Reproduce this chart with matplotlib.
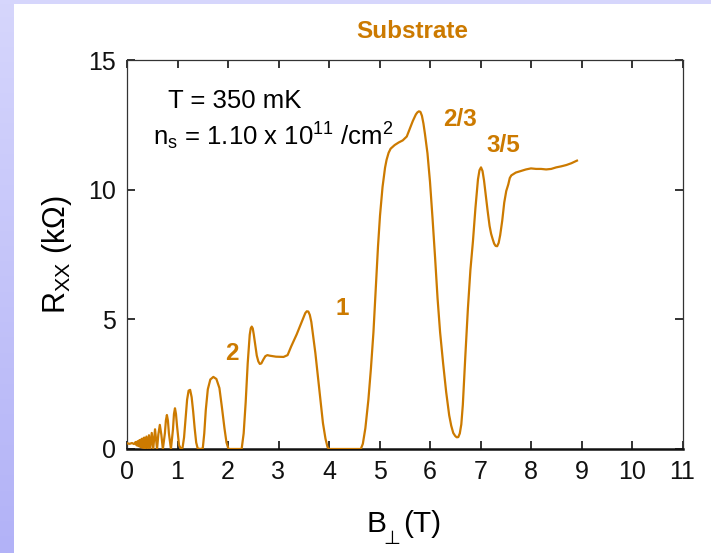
import numpy as np
import matplotlib
matplotlib.use("Agg")
import matplotlib.pyplot as plt
from matplotlib.colors import LinearSegmentedColormap

plt.rcParams['font.family'] = ['Liberation Sans', 'DejaVu Sans']
plt.rcParams['mathtext.fontset'] = 'custom'
plt.rcParams['mathtext.rm'] = 'Liberation Sans'
plt.rcParams['mathtext.it'] = 'Liberation Sans'

# ---- data ----
B_field = [0.00, 0.05, 0.10, 0.14, 0.17, 0.19, 0.21, 0.225, 0.24, 0.255, 0.27, 0.285,
           0.30, 0.32, 0.34, 0.36, 0.385, 0.41, 0.435, 0.46, 0.49, 0.52, 0.555, 0.595,
           0.62, 0.65, 0.68, 0.71, 0.75, 0.77, 0.79, 0.81, 0.83, 0.87, 0.91, 0.93, 0.95,
           0.97, 0.99, 1.03, 1.07,
           1.10, 1.13, 1.16, 1.19, 1.22, 1.25, 1.28, 1.31, 1.34, 1.37, 1.40, 1.45, 1.50,
           1.53, 1.56, 1.60, 1.65, 1.71, 1.77, 1.83, 1.88, 1.93, 1.97, 2.01, 2.27,
           2.31, 2.35, 2.39, 2.43, 2.45, 2.47, 2.49, 2.51, 2.54, 2.57, 2.60, 2.63, 2.66,
           2.70, 2.74, 2.78, 2.82, 2.95,
           3.10, 3.18, 3.25, 3.36, 3.45, 3.50, 3.53, 3.56, 3.59, 3.62, 3.65, 3.68, 3.73,
           3.78, 3.83, 3.88, 3.93, 3.97, 4.00, 4.63, 4.67, 4.72, 4.78, 4.83, 4.88, 4.93,
           4.97, 5.01, 5.06, 5.11, 5.14, 5.18, 5.22, 5.30, 5.38, 5.46, 5.54, 5.60, 5.66,
           5.72, 5.75, 5.78, 5.81, 5.84, 5.87, 5.90, 5.95, 6.00, 6.05, 6.10, 6.15, 6.20,
           6.26, 6.32, 6.38, 6.42, 6.46, 6.50, 6.53, 6.56, 6.59, 6.62, 6.65, 6.70, 6.75,
           6.80, 6.85, 6.90, 6.95, 6.98, 7.01, 7.04, 7.07, 7.10, 7.14, 7.18, 7.21, 7.24,
           7.27, 7.30, 7.33, 7.36, 7.39, 7.43, 7.47, 7.51, 7.55, 7.58, 7.61, 7.65, 7.70,
           7.80, 7.90, 8.00, 8.10, 8.20, 8.30, 8.40, 8.50, 8.60, 8.70, 8.80, 8.91]
R_xx = [0.22, 0.20, 0.23, 0.19, 0.27, 0.14, 0.30, 0.11, 0.33, 0.09, 0.36, 0.06,
        0.40, 0.04, 0.44, 0.02, 0.48, 0.00, 0.53, 0.00, 0.62, 0.02, 0.76, 0.00,
        0.55, 0.93, 0.55, 0.00, 0.60, 1.10, 1.31, 1.10, 0.60, 0.00, 0.75, 1.35, 1.57,
        1.35, 0.90, 0.15, 0.00,
        0.05, 0.45, 1.20, 1.90, 2.25, 2.28, 2.00, 1.45, 0.80, 0.25, 0.02, 0.00, 0.02,
        0.60, 1.50, 2.30, 2.68, 2.78, 2.70, 2.35, 1.60, 0.80, 0.25, 0.00, 0.00,
        0.60, 1.80, 3.30, 4.40, 4.65, 4.72, 4.65, 4.42, 4.00, 3.60, 3.38, 3.28, 3.30,
        3.45, 3.58, 3.62, 3.60, 3.56,
        3.55, 3.62, 3.95, 4.42, 4.85, 5.10, 5.24, 5.31, 5.30, 5.17, 4.90, 4.45, 3.70,
        2.80, 1.90, 1.00, 0.40, 0.08, 0.00, 0.00, 0.20, 0.80, 1.90, 3.10, 4.50, 6.30,
        7.80, 9.00, 10.10, 10.85, 11.15, 11.42, 11.58, 11.72, 11.82, 11.90, 12.05, 12.35, 12.65,
        12.90, 12.98, 13.02, 13.00, 12.85, 12.55, 12.15, 11.40, 10.30, 8.90, 7.40, 5.80, 4.50,
        3.30, 2.20, 1.30, 0.90, 0.62, 0.50, 0.45, 0.46, 0.60, 0.95, 1.70, 3.60, 5.40,
        6.90, 8.00, 9.30, 10.40, 10.75, 10.86, 10.72, 10.35, 9.85, 9.20, 8.60, 8.30, 8.10,
        7.92, 7.83, 7.82, 7.95, 8.25, 8.80, 9.50, 9.95, 10.20, 10.45, 10.55, 10.60, 10.66,
        10.72, 10.78, 10.82, 10.80, 10.80, 10.78, 10.80, 10.86, 10.90, 10.95, 11.02, 11.12]
x_ticks = list(range(0, 12))
y_ticks = [0, 5, 10, 15]
fraction_labels = ["2", "1", "2/3", "3/5"]
fraction_pos = [(2.08, 3.7), (4.27, 5.4), (6.6, 12.7), (7.45, 11.7)]

ORANGE = '#CC7A00'
W, H = 711, 553

fig = plt.figure(figsize=(7.11, 5.53), dpi=100)
fig.patch.set_facecolor('white')

# lavender frame strips
grad_ax = fig.add_axes([0, 0, 14 / W, 1])
cmap = LinearSegmentedColormap.from_list('lav', ['#d6d6fc', '#b2b2f7'])
grad_ax.imshow(np.linspace(0, 1, 256).reshape(-1, 1), aspect='auto', cmap=cmap,
               extent=[0, 1, 0, 1], origin='upper')
grad_ax.axis('off')
top_ax = fig.add_axes([0, 1 - 4 / H, 1, 4 / H])
top_ax.set_facecolor('#d6d6fc')
top_ax.set_xticks([]); top_ax.set_yticks([])
for s in top_ax.spines.values():
    s.set_visible(False)

ax = fig.add_axes([127 / W, 1 - 449 / H, 555.5 / W, 389 / H])
ax.plot(B_field, R_xx, color=ORANGE, lw=1.6, solid_joinstyle='round', zorder=3)
ax.set_xlim(0, 11)
ax.set_ylim(0, 15)
ax.set_xticks(x_ticks)
ax.set_yticks(y_ticks)
ax.tick_params(direction='in', length=6, width=1.2, top=True, right=True,
               labelsize=18, pad=8, colors='#111111')
for side, s in ax.spines.items():
    s.set_color('#333333')
    s.set_linewidth(0.9)
ax.spines['bottom'].set_linewidth(1.8)
ax.spines['bottom'].set_color('#111111')

# x label: B with perpendicular subscript, then (T)
fig.text(366 / W, 1 - 532 / H, 'B', fontsize=21.5, ha='left', va='baseline')
fig.text(392 / W, 1 - 539 / H, '\u22A5', fontsize=14, ha='center', va='center',
         family=['DejaVu Sans'])
fig.text(403 / W, 1 - 532 / H, '(T)', fontsize=21.5, ha='left', va='baseline')

ax.set_ylabel(r'R$_{\rm XX}$ (k$\Omega$)', fontsize=22, labelpad=10)

fig.text(412 / W, 1 - 32 / H, 'Substrate', color=ORANGE, fontsize=17.5,
         fontweight='bold', ha='center', va='center')
fig.text(168 / W, 1 - 101 / H, 'T = 350 mK', fontsize=18.5, ha='left', va='center')
fig.text(153 / W, 1 - 136 / H, r'n$_{\rm s}$ = 1.10 x 10$^{11}$ /cm$^{2}$',
         fontsize=18.5, ha='left', va='center')

for lab, (xp, yp) in zip(fraction_labels, fraction_pos):
    ax.text(xp, yp, lab, color=ORANGE, fontsize=17.5, fontweight='bold',
            ha='center', va='center')

fig.savefig('out.png', dpi=100, facecolor='white')
